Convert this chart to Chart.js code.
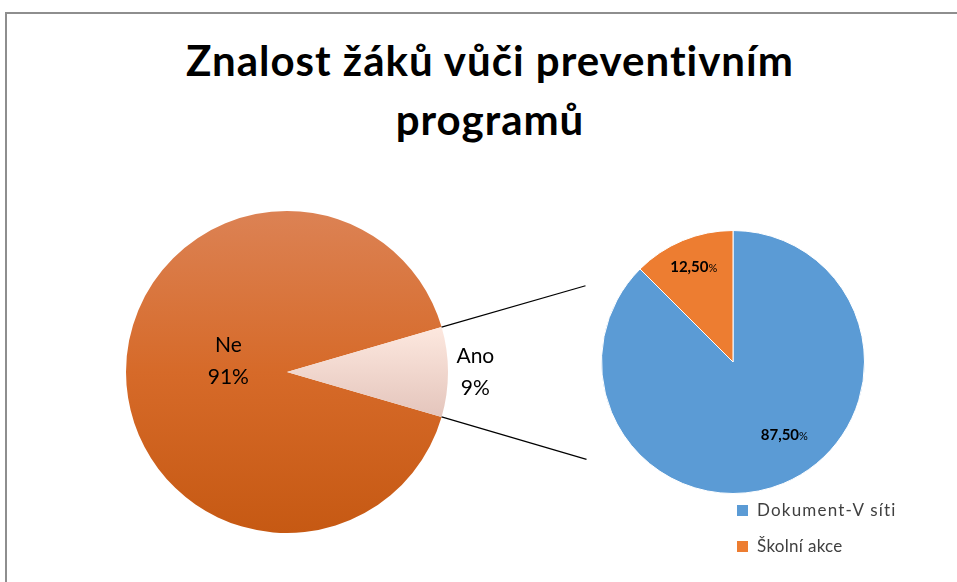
<!DOCTYPE html>
<html>
<head>
<meta charset="utf-8">
<script src="https://cdn.jsdelivr.net/npm/chart.js@4.4.1/dist/chart.umd.min.js"></script>
<style>
    body { margin: 0; width: 957px; height: 582px; overflow: hidden; background: #fff; font-family: Lato, sans-serif; }
    #frame { position: absolute; left: 5px; top: 12px; width: 1000px; height: 600px; border-top: 2px solid #8e8e8e; border-left: 2px solid #8e8e8e; }
    #title { position: absolute; left: 23px; width: 934px; top: 31px; text-align: center; font: bold 42px/59px Lato, sans-serif; letter-spacing: 1px; color: #000; }
    canvas { position: absolute; }
    #mainChart { left: 0; top: 0; }
    #subChart { left: 601px; top: 230px; }
    #legend { position: absolute; left: 737px; top: 498px; font-size: 17px; color: #404040; }
    #legend div { height: 36px; line-height: 24px; white-space: nowrap; }
    #legend span.box { display: inline-block; width: 11px; height: 11px; margin-right: 9px; vertical-align: 0px; }
</style>
</head>
<body>
<div id="frame"></div>
<div id="title">Znalost žáků vůči preventivním<br>programů</div>
<canvas id="mainChart" width="957" height="582"></canvas>
<canvas id="subChart" width="264" height="264"></canvas>
<div id="legend"></div>

<script>
// data
const categories = ["Ne", "Ano"];
const shares = [91, 9];
const subCategories = ["Dokument-V síti", "Školní akce"];
const subShares = [87.5, 12.5];
const subColors = ["#5b9bd5", "#ed7d31"];

// -------- label helper ----------
function labelPoint(arc, dist, turn) {
    const p = arc.getProps(["x", "y", "startAngle", "endAngle", "outerRadius"], true);
    const a = (p.startAngle + p.endAngle) / 2 + turn * Math.PI / 180;
    return { x: p.x + Math.cos(a) * p.outerRadius * dist, y: p.y + Math.sin(a) * p.outerRadius * dist };
}

// -------- SMALL PIE: breakdown of "Ano" ----------
const subLabels = {
    id: "subLabels",
    afterDatasetsDraw(chart) {
        const ctx = chart.ctx;
        const dist = [0.68, 0.78];
        const turn = [-12.5, 0];
        chart.getDatasetMeta(0).data.forEach((arc, i) => {
            const pt = labelPoint(arc, dist[i], turn[i]);
            const num = subShares[i].toFixed(2).replace(".", ",");
            ctx.save();
            ctx.fillStyle = "#000";
            ctx.textBaseline = "alphabetic";
            ctx.font = "bold 15px Lato";
            const w1 = ctx.measureText(num).width;
            ctx.font = "11px Lato";
            const w2 = ctx.measureText("%").width;
            const x0 = pt.x - (w1 + w2) / 2;
            ctx.font = "bold 15px Lato";
            ctx.fillText(num, x0, pt.y + 5);
            ctx.font = "11px Lato";
            ctx.fillText("%", x0 + w1, pt.y + 5);
            ctx.restore();
        });
    }
};

const subChart = new Chart(document.getElementById("subChart"), {
    type: "pie",
    data: {
        labels: subCategories,
        datasets: [{
            data: subShares,
            backgroundColor: subColors,
            borderColor: "#fff",
            borderWidth: 1
        }]
    },
    options: {
        responsive: false,
        animation: false,
        events: [],
        plugins: { legend: { display: false }, tooltip: { enabled: false } }
    },
    plugins: [subLabels]
});

// legend built from the small pie
document.getElementById("legend").innerHTML = subCategories.map((c, i) =>
    `<div style="letter-spacing:${i === 0 ? 1.2 : 0.3}px"><span class="box" style="background:${subColors[i]}"></span>${c}</div>`
).join("");

// -------- BIG PIE: Ne / Ano ----------
const sliceStops = [
    [[0, "#dc8254"], [0.5, "#d66a29"], [1, "#c65913"]],
    [[0.36, "#fde8df"], [0.64, "#e4c5bc"]]
];

function sliceFill(context) {
    const stops = sliceStops[context.dataIndex] || sliceStops[0];
    const area = context.chart.chartArea;
    if (!area) return stops[0][1];
    const g = context.chart.ctx.createLinearGradient(0, area.top, 0, area.bottom);
    stops.forEach(s => g.addColorStop(s[0], s[1]));
    return g;
}

const mainLabels = {
    id: "mainLabels",
    afterDatasetsDraw(chart) {
        const ctx = chart.ctx;
        const total = shares.reduce((a, b) => a + b, 0);
        const dist = [0.37, 1.17];
        const turn = [10, 0];
        const arcs = chart.getDatasetMeta(0).data;

        // connector lines from "Ano" slice to the small pie
        const ano = arcs[1].getProps(["x", "y", "startAngle", "endAngle", "outerRadius"], true);
        const sub = subChart.getDatasetMeta(0).data[0].getProps(["outerRadius"], true);
        const sx = 601 + subChart.chartArea.left + subChart.chartArea.width / 2;
        const sy = 230 + subChart.chartArea.top + subChart.chartArea.height / 2;
        const ends = [[sx - sub.outerRadius - 16, sy - sub.outerRadius * 0.58],
                      [sx - sub.outerRadius - 15, sy + sub.outerRadius * 0.74]];
        ctx.save();
        ctx.strokeStyle = "#000";
        ctx.lineWidth = 1.2;
        [ano.startAngle, ano.endAngle].forEach((a, k) => {
            ctx.beginPath();
            ctx.moveTo(ano.x + Math.cos(a) * ano.outerRadius, ano.y + Math.sin(a) * ano.outerRadius);
            ctx.lineTo(ends[k][0], ends[k][1]);
            ctx.stroke();
        });

        ctx.fillStyle = "#000";
        ctx.font = "21px Lato";
        ctx.textAlign = "center";
        ctx.textBaseline = "middle";
        arcs.forEach((arc, i) => {
            const pt = labelPoint(arc, dist[i], turn[i]);
            ctx.fillText(categories[i], pt.x, pt.y - 16);
            ctx.fillText(Math.round(shares[i] / total * 100) + "%", pt.x, pt.y + 16);
        });
        ctx.restore();
    }
};

const anoShare = shares[1] / shares.reduce((a, b) => a + b, 0);

new Chart(document.getElementById("mainChart"), {
    type: "pie",
    data: {
        labels: categories,
        datasets: [{
            data: shares,
            backgroundColor: sliceFill,
            borderWidth: 0
        }]
    },
    options: {
        responsive: false,
        animation: false,
        events: [],
        rotation: 90 + anoShare * 180,
        layout: { padding: { left: 126, top: 211, right: 509, bottom: 49 } },
        plugins: { legend: { display: false }, tooltip: { enabled: false } }
    },
    plugins: [mainLabels]
});
</script>
</body>
</html>
